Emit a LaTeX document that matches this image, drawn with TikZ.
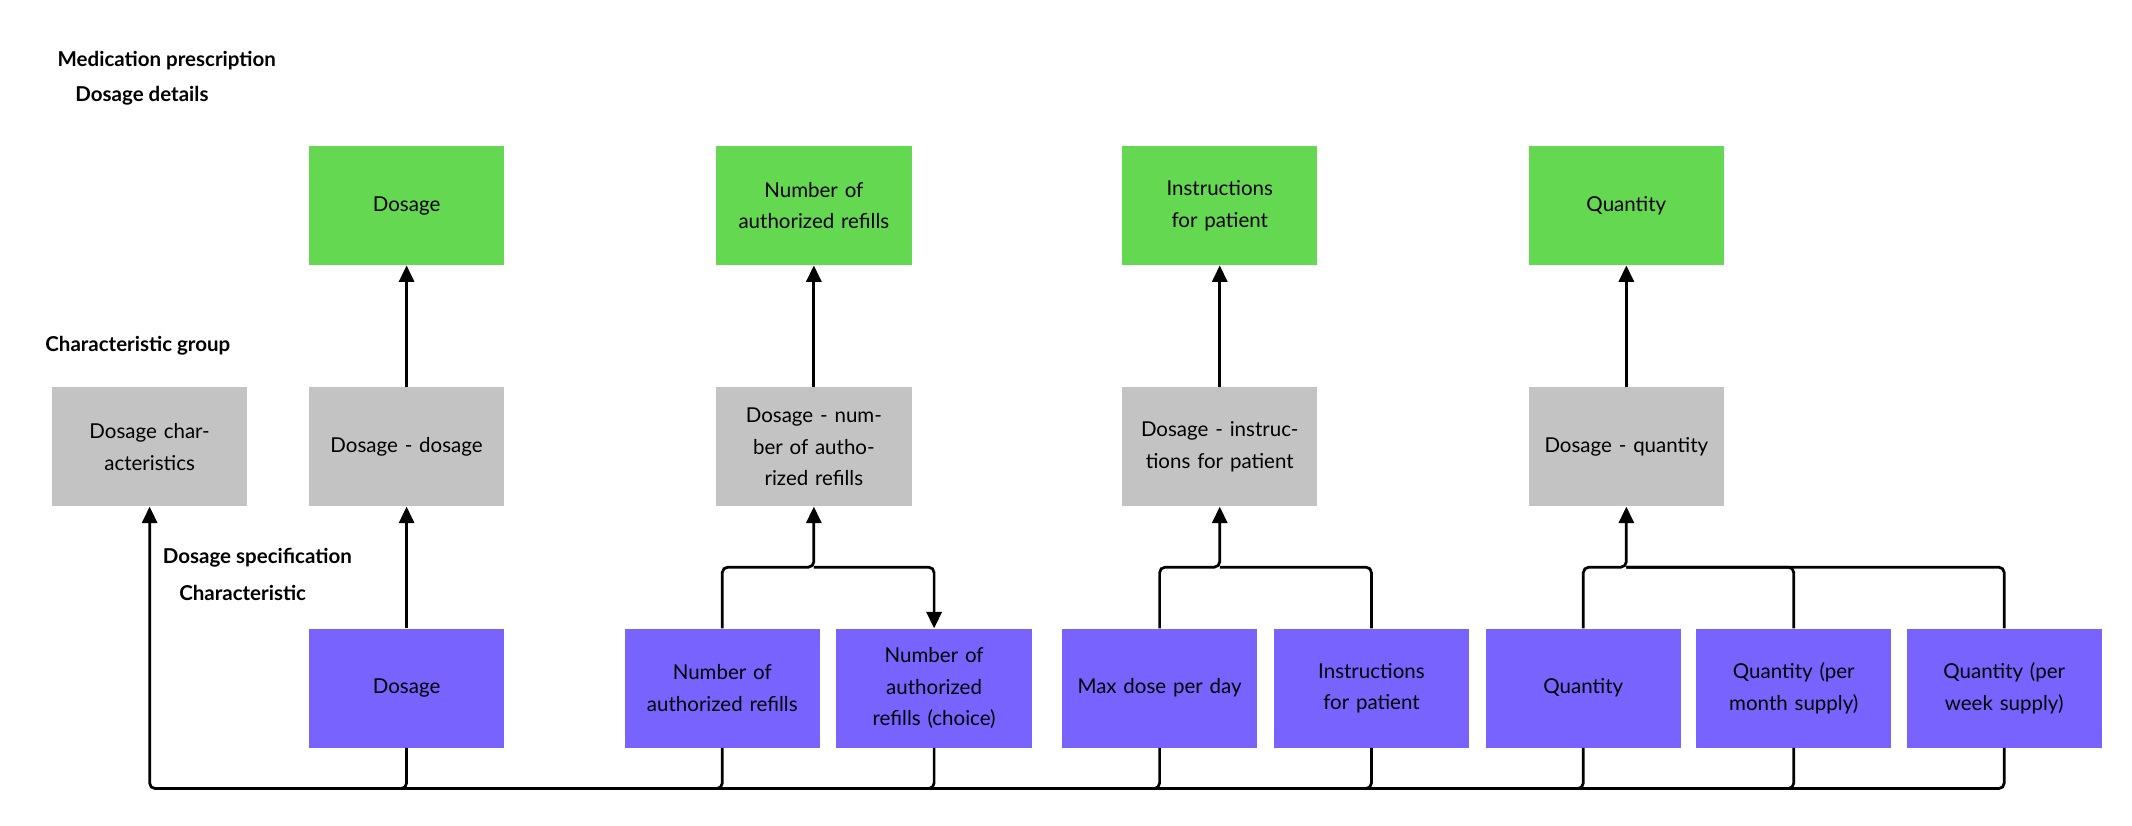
\documentclass[tikz,border=0pt]{standalone}
\usepackage{fontspec}
\setmainfont{Lato}
\usetikzlibrary{arrows.meta}
\begin{document}
\begin{tikzpicture}[x=1pt,y=1pt,
  box/.style={minimum width=143pt,minimum height=87pt,text width=128pt,align=center,inner sep=0pt,font=\fontsize{15}{23}\selectfont},
  g/.style={box,fill=green!60!black!20!green!70!white,fill={rgb,255:red,99;green,216;blue,80}},
  s/.style={box,fill={rgb,255:red,195;green,195;blue,195}},
  p/.style={box,fill={rgb,255:red,120;green,99;blue,255}},
  lbl/.style={anchor=west,font=\bfseries\fontsize{15}{18}\selectfont,inner sep=0pt},
  ln/.style={line width=2pt,rounded corners=4pt},
  ar/.style={ln,-{Triangle[width=11pt,length=12pt]}}]
\useasboundingbox (0,0) rectangle (1560,-604);
\node[lbl] (t1) at (42,-44) {Medication prescription};
\node[lbl] (t2) at (55,-70) {Dosage details};
\node[lbl] (t3) at (33,-253) {Characteristic group};
\node[lbl] (t4) at (119,-408) {Dosage specification};
\node[lbl] (t5) at (131,-434) {Characteristic};
% green
\node[g] (g1) at (297.5,-150.5) {Dosage};
\node[g] (g2) at (595.5,-150.5) {Number of authorized refills};
\node[g] (g3) at (892.5,-150.5) {Instructions for patient};
\node[g] (g4) at (1190,-150.5) {Quantity};
% gray
\node[s] (c0) at (109.5,-327) {Dosage characteristics};
\node[s] (c1) at (297.5,-327) {Dosage - dosage};
\node[s] (c2) at (595.5,-327) {Dosage - number of authorized refills};
\node[s] (c3) at (892.5,-327) {Dosage - instructions for patient};
\node[s] (c4) at (1190,-327) {Dosage - quantity};
% purple
\node[p] (p1) at (297.5,-503.5) {Dosage};
\node[p] (p2) at (528.5,-503.5) {Number of authorized refills};
\node[p] (p3) at (683.5,-503.5) {Number of authorized refills (choice)};
\node[p] (p4) at (848.5,-503.5) {Max dose per day};
\node[p] (p5) at (1003.5,-503.5) {Instructions for patient};
\node[p] (p6) at (1158.5,-503.5) {Quantity};
\node[p] (p7) at (1312.5,-503.5) {Quantity (per month supply)};
\node[p] (p8) at (1466.5,-503.5) {Quantity (per week supply)};
% up arrows
\foreach \a/\b in {c1/g1,c2/g2,c3/g3,c4/g4,p1/c1} \draw[ar] (\a.north) -- (\b.south);
\coordinate (br) at (0,-415);
\draw[ar] (p2.north) |- (c2.south |- br) -- (c2.south);
\draw[ar] (c2.south |- br) -| (p3.north);
\draw[ar] (p4.north) |- (c3.south |- br) -- (c3.south);
\draw[ln] (p5.north) |- (c3.south |- br);
\draw[ar] (p6.north) |- (c4.south |- br) -- (c4.south);
\draw[ln] (p7.north) |- (c4.south |- br);
\draw[ln] (p8.north) |- (c4.south |- br);
% bus
\coordinate (bus) at (0,-577);
\draw[ar] (p8.south) |- (c0.south |- bus) -- (c0.south);
\foreach \q in {p1,p2,p3,p4,p5,p6,p7} \draw[ln] (\q.south) |- ([xshift=-6pt]\q.south |- bus);
\end{tikzpicture}
\end{document}
